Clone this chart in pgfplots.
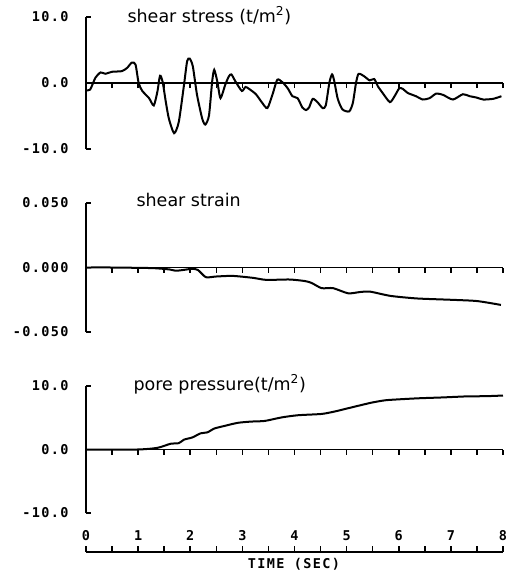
\documentclass[border=0pt]{standalone}
\usepackage{pgfplots}
\pgfplotsset{compat=1.18}
\usepackage{fontspec}
\setmainfont{DejaVu Sans}
\newfontfamily\plotfont[LetterSpace=10]{DejaVu Sans Mono}
\newfontfamily\titlefont{DejaVu Sans}

\pgfplotsset{
  panel/.style={
    scale only axis, width=417pt, xmin=0, xmax=8,
    axis x line=middle, axis y line=left,
    axis line style={-, line width=1.6pt},
    every tick/.style={black, line width=1.6pt},
    xtick={0,0.5,...,8}, xticklabels={},
    xtick align=outside, ytick align=inside,
    major tick length=5pt,
    scaled y ticks=false,
    clip=false,
    /pgf/number format/assume math mode=true,
    yticklabel style={font=\fontsize{13.5}{14}\selectfont\plotfont\bfseries, xshift=-14pt},
  },
  curve/.style={black, line width=2pt, smooth, tension=0.4, mark=none},
}
\tikzset{ttl/.style={anchor=base west, font=\fontsize{17.5}{19}\selectfont\titlefont}}

\begin{document}
\begin{tikzpicture}
\path[use as bounding box] (0pt,0pt) rectangle (521pt,-576pt);

% shear stress
\begin{axis}[panel, at={(86pt,-149pt)}, anchor=south west, height=132pt,
  ymin=-10, ymax=10, ytick={-10,0,10}, yticklabels={-10.0,0.0,10.0}]
\addplot[curve] coordinates {
(0,-1.1) (0.08,-1.0) (0.18,0.8) (0.28,1.6) (0.37,1.4) (0.5,1.7) (0.69,1.8)
(0.79,2.3) (0.88,3.1) (0.95,2.8) (1.01,0.0) (1.08,-1.2) (1.21,-2.3) (1.30,-3.4)
(1.37,-1.3) (1.42,1.1) (1.47,0.2) (1.53,-2.8) (1.59,-5.4) (1.69,-7.6) (1.78,-5.9)
(1.88,-0.3) (1.94,3.3) (1.99,3.7) (2.05,2.5) (2.13,-1.8) (2.23,-5.4) (2.29,-6.3)
(2.36,-4.9) (2.42,0.2) (2.46,2.0) (2.52,0.2) (2.58,-2.3) (2.67,-0.3) (2.74,1.0)
(2.79,1.3) (2.87,0.2) (2.99,-1.2) (3.06,-0.6) (3.13,-0.9) (3.26,-1.7) (3.38,-3.0)
(3.48,-3.8) (3.58,-1.7) (3.67,0.5) (3.77,0.1) (3.87,-0.8) (3.96,-2.0) (4.06,-2.3)
(4.15,-3.7) (4.22,-4.1) (4.28,-3.7) (4.35,-2.4) (4.44,-2.9) (4.54,-3.8) (4.60,-3.4)
(4.67,0.1) (4.72,1.3) (4.76,0.4) (4.83,-2.4) (4.92,-4.0) (5.05,-4.3) (5.12,-3.0)
(5.18,0.0) (5.23,1.4) (5.34,1.0) (5.44,0.4) (5.53,0.6) (5.60,-0.5) (5.69,-1.5)
(5.83,-2.9) (5.92,-2.0) (6.01,-0.8) (6.08,-0.9) (6.17,-1.5) (6.33,-2.0) (6.46,-2.5)
(6.59,-2.3) (6.72,-1.6) (6.85,-1.8) (7.04,-2.5) (7.23,-1.7) (7.36,-2.0) (7.49,-2.2)
(7.62,-2.5) (7.81,-2.4) (7.97,-2.0)};
\end{axis}
\node[ttl] at (124pt,-22pt) {shear stress (t/m\textsuperscript{2})};

% shear strain
\begin{axis}[panel, at={(86pt,-332pt)}, anchor=south west, height=129pt,
  ymin=-0.05, ymax=0.05, ytick={-0.05,0,0.05}, yticklabels={-0.050,0.000,0.050}]
\addplot[curve] coordinates {
(0,0) (0.5,0) (0.89,-0.0002) (1.3,-0.0005) (1.6,-0.0015) (1.72,-0.0025) (1.85,-0.002)
(2.04,-0.001) (2.15,-0.002) (2.3,-0.0075) (2.49,-0.007) (2.81,-0.0065) (3.2,-0.008)
(3.46,-0.0096) (3.9,-0.0093) (4.2,-0.0105) (4.33,-0.012) (4.52,-0.016) (4.74,-0.016)
(5.03,-0.020) (5.26,-0.019) (5.45,-0.0187) (5.84,-0.022) (6.35,-0.024) (6.99,-0.025)
(7.5,-0.026) (7.96,-0.029)};
\end{axis}
\node[ttl] at (133pt,-206pt) {shear strain};

% pore pressure
\begin{axis}[panel, at={(86pt,-513pt)}, anchor=south west, height=127pt,
  ymin=-10, ymax=10, ytick={-10,0,10}, yticklabels={-10.0,0.0,10.0}]
\addplot[curve] coordinates {
(0,0) (0.98,0) (1.37,0.26) (1.62,0.9) (1.78,1.0) (1.88,1.55) (2.04,1.9) (2.2,2.55)
(2.33,2.7) (2.46,3.3) (2.65,3.7) (2.91,4.2) (3.17,4.4) (3.43,4.5) (3.75,5.05)
(4.07,5.4) (4.52,5.6) (4.78,6.0) (5.03,6.5) (5.23,6.9) (5.49,7.4) (5.74,7.75)
(6.0,7.9) (6.39,8.07) (6.84,8.2) (7.29,8.36) (7.68,8.4) (8.0,8.5)};
\end{axis}
\node[ttl] at (130pt,-390pt) {pore pressure(t/m\textsuperscript{2})};

% time axis
\begin{axis}[at={(86pt,-552pt)}, anchor=north west, scale only axis,
  width=417pt, height=10pt, xmin=0, xmax=8, ymin=0, ymax=1,
  axis x line=top, axis y line=none,
  axis line style={-, line width=1.6pt},
  every tick/.style={black, line width=1.6pt},
  xtick={0,...,8}, minor xtick={0.5,1.5,...,7.5},
  xtick align=outside, major tick length=6pt, minor tick length=6pt,
  /pgf/number format/assume math mode=true,
  xticklabel style={font=\fontsize{13.5}{14}\selectfont\plotfont\bfseries, yshift=2pt}]
\end{axis}
\node[font=\fontsize{13.5}{14}\selectfont\plotfont\bfseries] at (294pt,-564pt) {TIME (SEC)};
\end{tikzpicture}
\end{document}
